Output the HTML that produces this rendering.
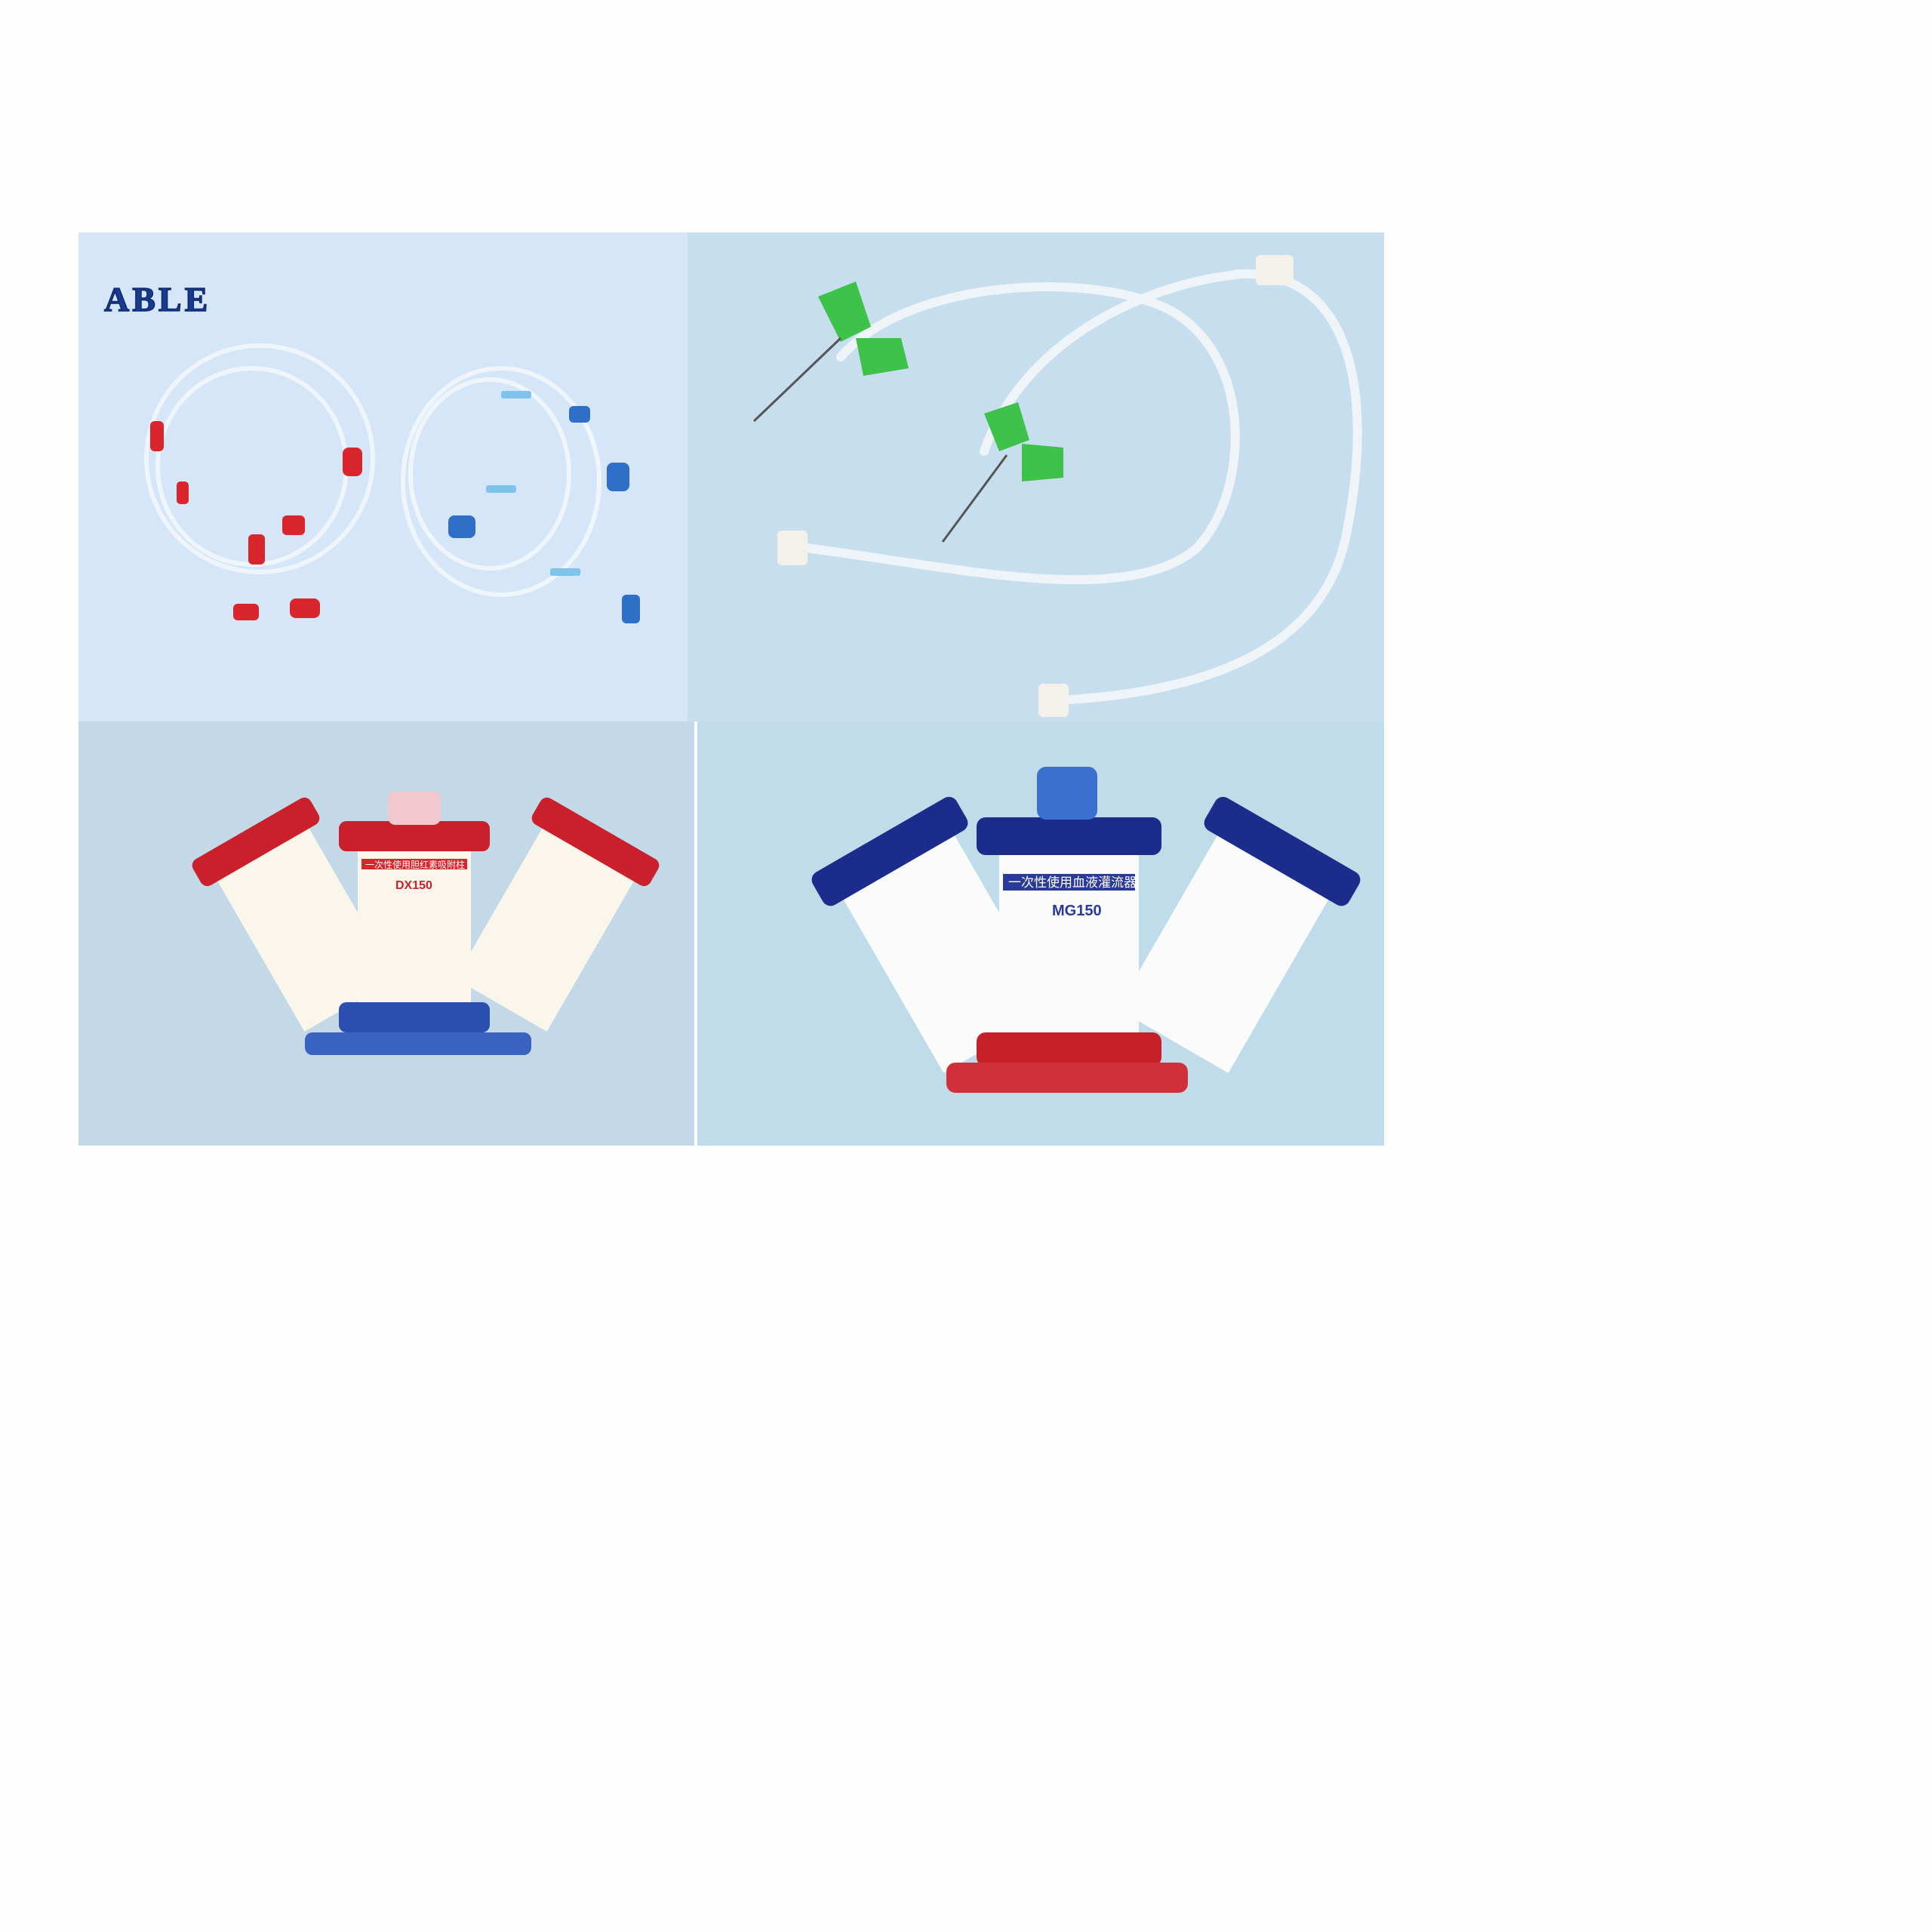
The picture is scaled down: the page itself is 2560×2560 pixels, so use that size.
<!DOCTYPE html>
<html><head><meta charset="utf-8"><style>
html,body{margin:0;padding:0;background:#fefefe;}
body{width:2560px;height:2560px;position:relative;overflow:hidden;font-family:"Liberation Sans","Noto Sans CJK SC",sans-serif;}
.p{position:absolute;}
</style></head><body>
<div class="p" style="left:104px;top:308px;width:1730px;height:1210px;">
<svg width="1730" height="1210" viewBox="0 0 1730 1210" xmlns="http://www.w3.org/2000/svg">
 <!-- top-left panel: bloodline sets -->
 <g>
  <rect x="0" y="0" width="807" height="648" fill="#d4e6f7"/>
  <text x="34" y="104" font-family="Liberation Serif,serif" font-weight="bold" font-size="46" fill="#1a3a8f" stroke="#0d2a70" stroke-width="1.5" letter-spacing="4">ABLE</text>
  <g fill="none" stroke="#f2f7fc" stroke-width="6" opacity="0.9">
   <ellipse cx="240" cy="300" rx="150" ry="150"/>
   <ellipse cx="230" cy="310" rx="125" ry="130"/>
   <ellipse cx="560" cy="330" rx="130" ry="150"/>
   <ellipse cx="545" cy="320" rx="105" ry="125"/>
  </g>
  <g fill="#d8262c">
   <rect x="95" y="250" width="18" height="40" rx="6"/><rect x="350" y="285" width="26" height="38" rx="8"/>
   <rect x="270" y="375" width="30" height="26" rx="6"/><rect x="225" y="400" width="22" height="40" rx="6"/>
   <rect x="280" y="485" width="40" height="26" rx="8"/><rect x="205" y="492" width="34" height="22" rx="6"/>
   <rect x="130" y="330" width="16" height="30" rx="5"/>
  </g>
  <g fill="#2f6fc8">
   <rect x="700" y="305" width="30" height="38" rx="8"/><rect x="490" y="375" width="36" height="30" rx="8"/>
   <rect x="720" y="480" width="24" height="38" rx="6"/><rect x="650" y="230" width="28" height="22" rx="6"/>
  </g>
  <g fill="#7ec3ec"><rect x="560" y="210" width="40" height="10" rx="3"/><rect x="540" y="335" width="40" height="10" rx="3"/><rect x="625" y="445" width="40" height="10" rx="3"/></g>
 </g>
 <!-- top-right panel: fistula needles -->
 <g>
  <rect x="807" y="0" width="923" height="648" fill="#c7deef"/>
  <g fill="none" stroke="#eef4f8" stroke-width="12" stroke-linecap="round">
   <path d="M1010 165 C1100 60 1350 50 1450 105 C1560 170 1550 350 1480 420 C1380 500 1150 440 940 415"/>
   <path d="M1200 290 C1250 150 1400 70 1540 55 C1680 50 1720 200 1680 400 C1650 550 1500 610 1295 620"/>
  </g>
  <rect x="926" y="395" width="40" height="46" rx="6" fill="#f3f1ea"/>
  <rect x="1272" y="598" width="40" height="44" rx="6" fill="#f3f1ea"/>
  <rect x="1560" y="30" width="50" height="40" rx="6" fill="#f3f1ea"/>
  <g fill="#3fc24a"><path d="M980 85 l50 -20 l20 60 l-40 20z"/><path d="M1030 140 l60 0 l10 40 l-60 10z"/>
   <path d="M1200 240 l45 -15 l15 50 l-40 15z"/><path d="M1250 280 l55 5 l0 40 l-55 5z"/></g>
  <g stroke="#555" stroke-width="3"><line x1="1010" y1="140" x2="895" y2="250"/><line x1="1230" y1="295" x2="1145" y2="410"/></g>
 </g>
 <!-- bottom-left: red adsorbers -->
 <g>
  <rect x="0" y="648" width="816" height="562" fill="#c3d9e8"/>
  <g transform="rotate(-30 300 920)"><rect x="230" y="780" width="140" height="260" fill="#fbf6ec"/><rect x="210" y="770" width="180" height="40" rx="10" fill="#c9202c"/></g>
  <g transform="rotate(30 620 920)"><rect x="550" y="780" width="140" height="260" fill="#fbf6ec"/><rect x="530" y="770" width="180" height="40" rx="10" fill="#c9202c"/></g>
  <rect x="370" y="800" width="150" height="230" fill="#fbf6ec"/>
  <rect x="345" y="780" width="200" height="40" rx="10" fill="#c9202c"/>
  <rect x="410" y="740" width="70" height="45" rx="10" fill="#f0c8ce"/>
  <rect x="345" y="1020" width="200" height="40" rx="10" fill="#2a4fb0"/>
  <rect x="300" y="1060" width="300" height="30" rx="10" fill="#3a62c0"/>
  <rect x="375" y="830" width="140" height="14" fill="#d8262c"/>
  <text x="380" y="842" font-size="12" fill="#fff">一次性使用胆红素吸附柱</text>
  <text x="420" y="870" font-size="16" font-weight="bold" fill="#c9202c">DX150</text>
 </g>
 <!-- bottom-right: blue perfusers -->
 <g>
  <rect x="820" y="648" width="910" height="562" fill="#c0dcea"/>
  <g transform="rotate(-30 1150 950)"><rect x="1065" y="790" width="170" height="300" fill="#fbfbfb"/><rect x="1040" y="775" width="220" height="50" rx="12" fill="#1c2c8a"/></g>
  <g transform="rotate(30 1520 950)"><rect x="1435" y="790" width="170" height="300" fill="#fbfbfb"/><rect x="1410" y="775" width="220" height="50" rx="12" fill="#1c2c8a"/></g>
  <rect x="1220" y="800" width="185" height="270" fill="#fbfbfb"/>
  <rect x="1190" y="775" width="245" height="50" rx="12" fill="#1c2c8a"/>
  <rect x="1270" y="708" width="80" height="70" rx="12" fill="#3b6fd0"/>
  <rect x="1190" y="1060" width="245" height="45" rx="12" fill="#c52028"/>
  <rect x="1150" y="1100" width="320" height="40" rx="12" fill="#d0303a"/>
  <rect x="1225" y="850" width="175" height="22" fill="#2a3a9a"/>
  <text x="1232" y="867" font-size="17" fill="#fff">一次性使用血液灌流器</text>
  <text x="1290" y="905" font-size="20" font-weight="bold" fill="#2a3a9a">MG150</text>
 </g>
</svg>
</div>
</body></html>
